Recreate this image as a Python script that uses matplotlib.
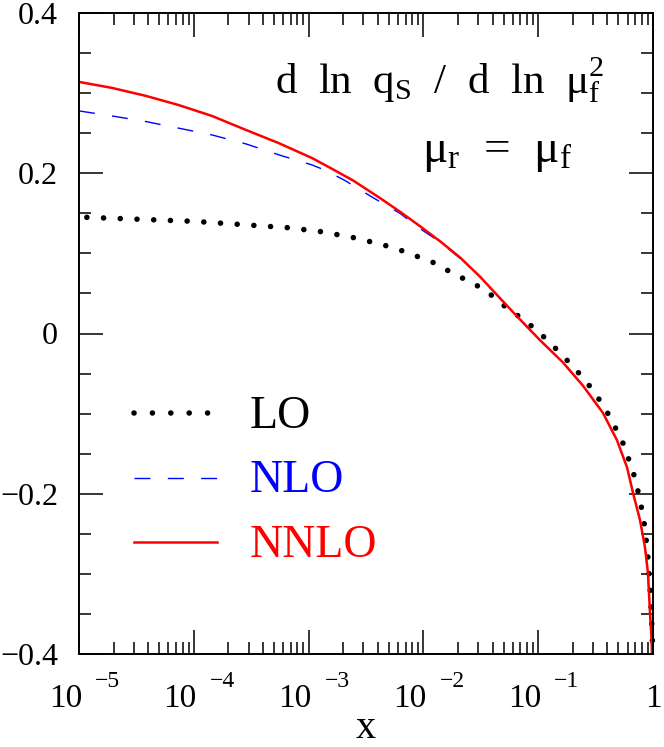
import numpy as np
import matplotlib
matplotlib.use("Agg")
import matplotlib.pyplot as plt
from matplotlib.ticker import FixedLocator, FixedFormatter, LogLocator, NullFormatter

plt.rcParams["font.family"] = ["Liberation Serif", "DejaVu Serif"]
plt.rcParams["mathtext.fontset"] = "custom"
plt.rcParams["mathtext.rm"] = "Liberation Serif"
plt.rcParams["mathtext.it"] = "Liberation Serif"
plt.rcParams["mathtext.bf"] = "Liberation Serif:bold"

# ── data ─────────────────────────────────────────────────────────────────────
lo_x = [1.17e-5, 1e-4, 6.7e-4, 1.3e-3, 2.6e-3, 4.9e-3, 6.6e-3, 9.1e-3, 0.0125,
        0.0166, 0.022, 0.030, 0.039, 0.049, 0.064, 0.083, 0.106, 0.132, 0.204,
        0.306, 0.422, 0.548, 0.670, 0.771, 0.852, 0.904, 0.942, 0.970, 0.990, 0.998]
lo_y = [0.145, 0.140, 0.132, 0.127, 0.119, 0.109, 0.103, 0.0955, 0.088,
        0.078, 0.069, 0.059, 0.048, 0.036, 0.024, 0.012, -0.001, -0.014, -0.042,
        -0.072, -0.104, -0.137, -0.172, -0.207, -0.243, -0.280, -0.317, -0.353, -0.387, -0.40]

nlo_x = [1e-5, 1.94e-5, 3.84e-5, 7.43e-5, 1.44e-4, 2.85e-4, 5.52e-4, 1.07e-3,
         1.41e-3, 2.07e-3, 3.5e-3, 6.25e-3, 9.33e-3, 0.014, 0.0208, 0.0311,
         0.0465, 0.0694, 0.104, 0.164, 0.245, 0.366, 0.485, 0.594, 0.670, 0.771,
         0.852, 0.904, 0.942, 0.970, 0.985]
nlo_y = [0.2778, 0.2715, 0.2645, 0.2562, 0.2478, 0.2366, 0.2229, 0.2104,
         0.2035, 0.191, 0.171, 0.150, 0.131, 0.114, 0.094, 0.071,
         0.044, 0.0175, -0.0085, -0.036, -0.065, -0.099, -0.133, -0.167, -0.199, -0.233,
         -0.267, -0.300, -0.350, -0.383, -0.41]

nnlo_x = [1e-5, 1.94e-5, 3.84e-5, 7.43e-5, 1.44e-4, 2.85e-4, 5.52e-4, 1.07e-3,
          1.6e-3, 2.44e-3, 4.19e-3, 6.25e-3, 9.33e-3, 0.014, 0.0208, 0.0311,
          0.0465, 0.0694, 0.104, 0.164, 0.245, 0.366, 0.485, 0.594, 0.670, 0.771,
          0.852, 0.904, 0.942, 0.970, 0.985]
nnlo_y = [0.314, 0.3065, 0.2965, 0.285, 0.2715, 0.254, 0.2375, 0.219,
          0.2055, 0.191, 0.169, 0.152, 0.134, 0.115, 0.095, 0.071,
          0.044, 0.0175, -0.0085, -0.036, -0.065, -0.099, -0.133, -0.167, -0.199, -0.233,
          -0.267, -0.299, -0.349, -0.38, -0.41]

y_ticks = [-0.4, -0.2, 0.0, 0.2, 0.4]
y_labels = ["\u22120.4", "\u22120.2", "0", "0.2", "0.4"]
x_exps = [-5, -4, -3, -2, -1]

# ── figure ───────────────────────────────────────────────────────────────────
fig = plt.figure(figsize=(6.64, 7.47), dpi=100)
ax = fig.add_axes([79 / 664, 93 / 747, 574 / 664, 641 / 747])

ax.plot(lo_x, lo_y, color="black", lw=4.0, linestyle=(0, (0.01, 3.0)),
        dash_capstyle="round", clip_on=False)
ax.plot(nlo_x, nlo_y, color="blue", lw=1.0, linestyle=(0, (11.5, 12.5)))
ax.plot(nnlo_x, nnlo_y, color="red", lw=1.8)

ax.set_xscale("log")
ax.set_xlim(1e-5, 1)
ax.set_ylim(-0.4, 0.4)

for s in ax.spines.values():
    s.set_linewidth(1.4)

ax.yaxis.set_major_locator(FixedLocator(y_ticks))
ax.yaxis.set_major_formatter(FixedFormatter(y_labels))
ax.yaxis.set_minor_locator(FixedLocator(np.arange(-0.4, 0.41, 0.05)))
ax.xaxis.set_major_locator(LogLocator(base=10, numticks=10))
ax.xaxis.set_minor_locator(LogLocator(base=10, subs=np.arange(2, 10), numticks=20))
ax.xaxis.set_major_formatter(NullFormatter())
ax.xaxis.set_minor_formatter(NullFormatter())

ax.tick_params(which="both", direction="in", top=True, right=True, width=1.1)
ax.tick_params(which="major", length=17)
ax.tick_params(which="minor", length=8.5)
ax.tick_params(axis="y", which="major", labelsize=23, pad=15)

# x tick labels written as "10" with a raised exponent
for e in x_exps:
    ax.annotate("10", xy=(10.0 ** e, 0), xycoords=("data", "axes fraction"),
                xytext=(3, -53), textcoords="offset pixels",
                ha="right", va="baseline", fontsize=24)
    ax.annotate("\u2212%d" % abs(e), xy=(10.0 ** e, 0), xycoords=("data", "axes fraction"),
                xytext=(16, -33), textcoords="offset pixels",
                ha="left", va="baseline", fontsize=17)
ax.annotate("1", xy=(1, 0), xycoords=("data", "axes fraction"),
            xytext=(0, -53), textcoords="offset pixels",
            ha="center", va="baseline", fontsize=24)

fig.text(366 / 664, 0.0, "x", ha="center", va="bottom", fontsize=29)

# labels inside the frame
ax.text(0.3415, 0.875, r"d  ln  q$_{\rm S}$  /  d  ln  $\mathrm{\mu}_{\rm f}^{2}$",
        transform=ax.transAxes, ha="left", va="baseline", fontsize=31)
ax.text(0.597, 0.7675, r"$\mathrm{\mu}_{\rm r}$  =  $\mathrm{\mu}_{\rm f}$",
        transform=ax.transAxes, ha="left", va="baseline", fontsize=34)

# hand-made legend
leg_x = [0.0958, 0.240]
ax.plot(leg_x, [0.376, 0.376], transform=ax.transAxes, color="black", lw=4.0,
        linestyle=(0, (0.01, 3.3)), dash_capstyle="round")
ax.plot(leg_x, [0.2746, 0.2746], transform=ax.transAxes, color="blue", lw=1.0,
        linestyle=(0, (11.5, 12.5)))
ax.plot(leg_x, [0.1747, 0.1747], transform=ax.transAxes, color="red", lw=1.8)
ax.text(0.298, 0.3526, "LO", transform=ax.transAxes, color="black", fontsize=33, va="baseline")
ax.text(0.298, 0.2527, "NLO", transform=ax.transAxes, color="blue", fontsize=33, va="baseline")
ax.text(0.298, 0.1513, "NNLO", transform=ax.transAxes, color="red", fontsize=33, va="baseline")

fig.savefig("out.png", dpi=100)
